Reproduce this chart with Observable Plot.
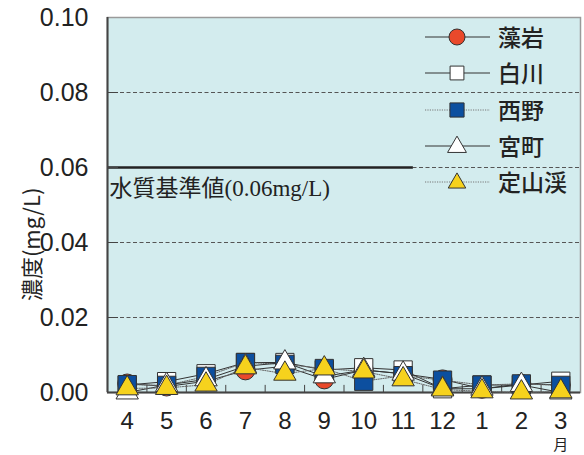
<!DOCTYPE html>
<html>
<head>
<meta charset="utf-8">
<script src="https://cdn.jsdelivr.net/npm/d3@7"></script>
<script src="https://cdn.jsdelivr.net/npm/@observablehq/plot@0.6"></script>
<style>
  html, body { margin: 0; padding: 0; background: #fff; }
  #chart { width: 584px; height: 455px; }
</style>
</head>
<body>
<div id="chart"></div>
<script>
const months = ["4","5","6","7","8","9","10","11","12","1","2","3"];
const yTicks = [0, 0.02, 0.04, 0.06, 0.08, 0.10];
const gridValues = [0.02, 0.04, 0.06, 0.08];
const standardValue = 0.06;
const standardLabel = "水質基準値(0.06mg/L)";
const yLabel = "濃度(mg/L)";
const monthUnit = "月";

const seriesNames = ["藻岩", "白川", "西野", "宮町", "定山渓"];
const moiwa     = [0.0024, 0.0016, 0.0030, 0.0059, 0.0070, 0.0035, 0.0060, 0.0050, 0.0035, 0.0010, 0.0023, 0.0020];
const shiroishi = [0.0020, 0.0029, 0.0050, 0.0080, 0.0080, 0.0060, 0.0066, 0.0060, 0.0010, 0.0020, 0.0020, 0.0030];
const nishino   = [0.0021, 0.0019, 0.0043, 0.0080, 0.0075, 0.0064, 0.0030, 0.0045, 0.0033, 0.0020, 0.0023, 0.0019];
const miyamachi = [0.0000, 0.0020, 0.0035, 0.0070, 0.0080, 0.0043, 0.0060, 0.0050, 0.0010, 0.0010, 0.0020, 0.0000];
const jozankei  = [0.0011, 0.0012, 0.0021, 0.0067, 0.0050, 0.0064, 0.0056, 0.0035, 0.0008, 0.0003, 0.0000, 0.0003];
const seriesValues = [moiwa, shiroishi, nishino, miyamachi, jozankei];

const styles = [
  {symbol: "circle",   fill: "#e9492b", r: 9.5,  dash: null},
  {symbol: "square",   fill: "#ffffff", r: 10.3, dash: null},
  {symbol: "square",   fill: "#0c4f9f", r: 10.3, dash: "1.2,1.2"},
  {symbol: "triangle", fill: "#ffffff", r: 8.3,  dash: null},
  {symbol: "triangle", fill: "#f6d21d", r: 8.3,  dash: "1.2,1.2"}
];

const rows = seriesValues.map((vals, s) => vals.map((v, i) => ({series: seriesNames[s], idx: i + 1, value: v})));

const lineMarks = rows.map((data, s) => Plot.line(data, {
  x: "idx", y: "value",
  stroke: styles[s].dash ? "#666" : "#333",
  strokeWidth: 1,
  strokeDasharray: styles[s].dash
}));
const dotMarks = rows.map((data, s) => Plot.dot(data, {
  x: "idx", y: "value",
  symbol: () => styles[s].symbol,
  r: styles[s].r,
  fill: styles[s].fill,
  stroke: "#333",
  strokeWidth: 1
}));

const numFont = "'Liberation Sans Narrow', 'Arial Narrow', 'Liberation Sans', sans-serif";

const chart = Plot.plot({
  width: 584,
  height: 455,
  marginLeft: 107,
  marginRight: 4,
  marginTop: 17,
  marginBottom: 63,
  style: {background: "#fff", overflow: "visible"},
  x: {domain: [0.5, 12.5]},
  y: {domain: [0, 0.1]},
  symbol: {type: "identity"},
  marks: [
    Plot.frame({fill: "#d3ecee", stroke: "#9a9a9a", strokeWidth: 1.5}),
    Plot.ruleY(gridValues, {stroke: "#555", strokeWidth: 1, strokeDasharray: "4,2.5"}),
    Plot.ruleY([standardValue], {x1: 0.5, x2: 8.26, stroke: "#222", strokeWidth: 2.5}),
    Plot.text([standardLabel], {x: 0.5, y: standardValue, dx: 2, dy: 21, textAnchor: "start",
      fontSize: 23, fill: "#222", fontFamily: "'Liberation Serif', 'DejaVu Serif', 'Noto Sans CJK JP', serif"}),
    Plot.ruleY(gridValues, {x1: 0.5, x2: 0.78, stroke: "#444", strokeWidth: 1}),
    Plot.ruleX(d3.range(1.5, 12, 1), {y1: 0, y2: 0.0019, stroke: "#444", strokeWidth: 1}),
    Plot.ruleX([0.5], {stroke: "#444", strokeWidth: 2}),
    Plot.ruleY([0], {stroke: "#444", strokeWidth: 2}),
    ...lineMarks,
    ...dotMarks,
    Plot.axisY({ticks: yTicks, tickFormat: d3.format(".2f"), tickSize: 0, tickPadding: 19, label: null,
      fontSize: 25, fontFamily: numFont, fill: "#222"}),
    Plot.axisX({ticks: d3.range(1, 13), tickFormat: i => months[i - 1], tickSize: 0, tickPadding: 19, label: null,
      fontSize: 24, fontFamily: numFont, fill: "#222"}),
    Plot.text([monthUnit], {x: 12, y: 0, dy: 53, fontSize: 15, fill: "#222", fontFamily: "'Noto Sans CJK JP', sans-serif"}),
    Plot.text([yLabel], {x: 0.5, y: 0.0395, dx: -75, rotate: -90, fontSize: 22, fill: "#222",
      fontFamily: "'Noto Sans CJK JP', sans-serif"})
  ]
});

document.getElementById("chart").appendChild(chart);

// Legend (inside plot area, top right)
const svg = d3.select(chart);
const legendY = [37, 73, 110, 146, 182];
const legendSizes = [8, 7.8, 8, 7, 6.5];
const symbolMap = {circle: d3.symbolCircle, square: d3.symbolSquare, triangle: d3.symbolTriangle};
const lg = svg.append("g").attr("class", "legend").attr("text-anchor", "start");
seriesNames.forEach((name, s) => {
  const y = legendY[s];
  lg.append("line")
    .attr("x1", 425).attr("x2", 490).attr("y1", y).attr("y2", y)
    .attr("stroke", styles[s].dash ? "#777" : "#333")
    .attr("stroke-width", 1)
    .attr("stroke-dasharray", styles[s].dash);
  const rr = legendSizes[s];
  lg.append("path")
    .attr("transform", `translate(457,${y + (styles[s].symbol === "triangle" ? 1 : 0)})`)
    .attr("d", d3.symbol(symbolMap[styles[s].symbol], Math.PI * rr * rr)())
    .attr("fill", styles[s].fill)
    .attr("stroke", "#333")
    .attr("stroke-width", 1);
  lg.append("text")
    .attr("x", 498).attr("y", y + 1)
    .attr("dy", "0.35em")
    .attr("text-anchor", "start")
    .attr("font-size", 23)
    .attr("font-family", "'Noto Sans CJK JP', sans-serif")
    .attr("font-weight", 500)
    .attr("fill", "#222")
    .text(name);
});
</script>
</body>
</html>
